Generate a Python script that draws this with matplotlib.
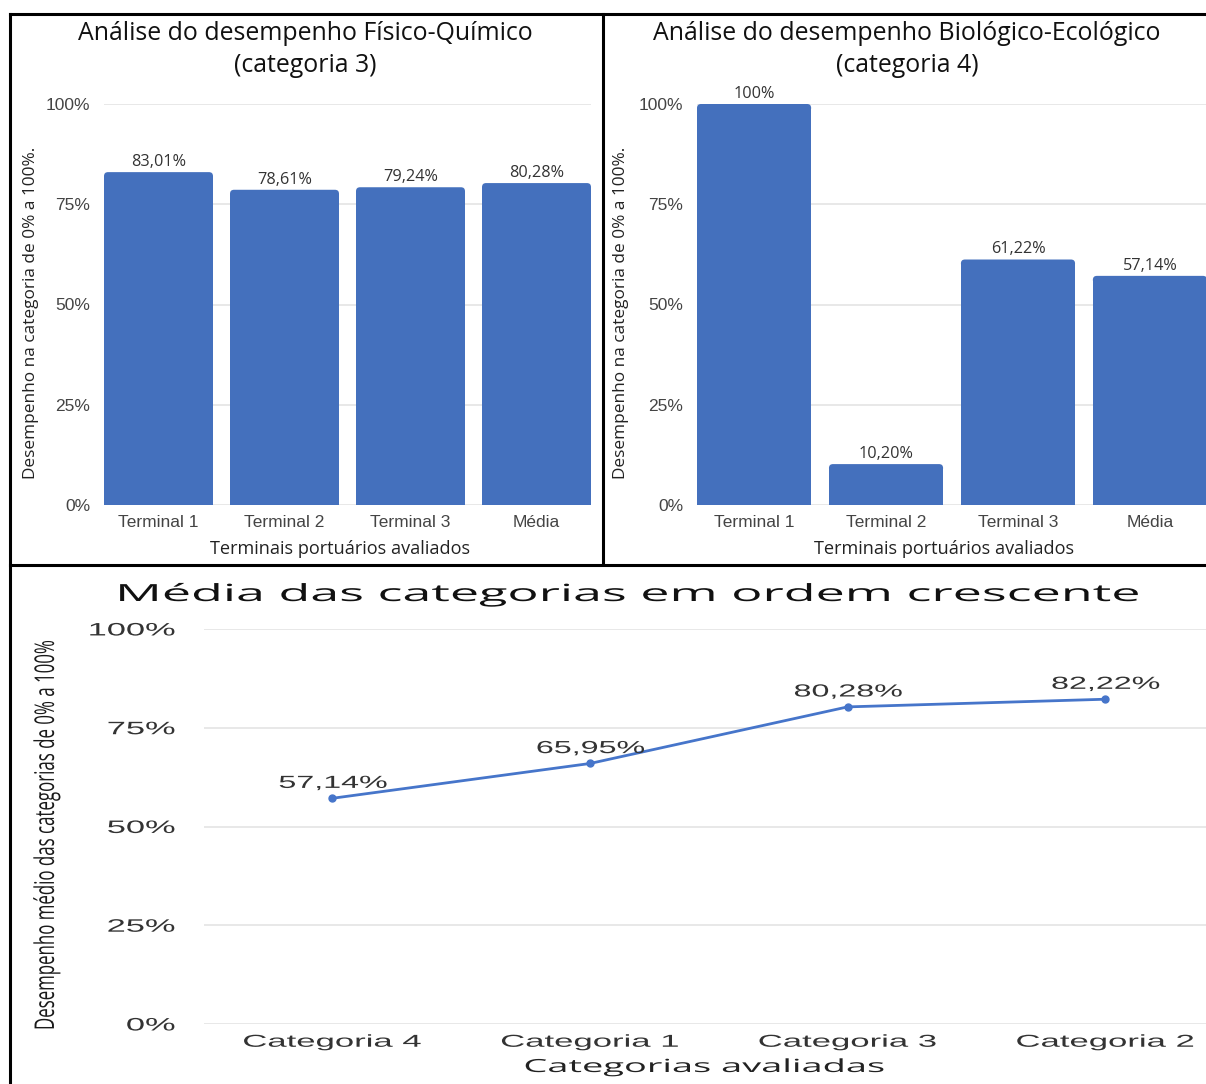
import numpy as np
import matplotlib
matplotlib.use("Agg")
import matplotlib.pyplot as plt
from matplotlib.patheffects import AbstractPathEffect
from matplotlib.transforms import Affine2D
from matplotlib.lines import Line2D
from matplotlib.patches import FancyBboxPatch

# ---- data -------------------------------------------------------------
terminais = ["Terminal 1", "Terminal 2", "Terminal 3", "Média"]
fisico_quimico = [83.01, 78.61, 79.24, 80.28]        # categoria 3
biologico_ecologico = [100.0, 10.20, 61.22, 57.14]   # categoria 4
categorias = ["Categoria 4", "Categoria 1", "Categoria 3", "Categoria 2"]
medias = [57.14, 65.95, 80.28, 82.22]
pct_ticks = [0, 25, 50, 75, 100]
pct_labels = ["0%", "25%", "50%", "75%", "100%"]

# ---- figure setup -----------------------------------------------------
W, H, DPI = 1206, 1084, 100
fig = plt.figure(figsize=(W / DPI, H / DPI), dpi=DPI)
fig.patch.set_facecolor("white")

BAR = "#4470BD"
LINE = "#4675CA"
GRID = "#e4e4e4"
TICK_C = "#444444"
LABEL_C = "#222222"
SANS = "Liberation Sans"
OPEN = "Open Sans"
BAR_W = 0.865
XLIM = (-0.4325, 3.4325)


def rect(x0, y0, x1, y1):
    """Pixel box (origin top-left) -> figure-fraction rect."""
    return [x0 / W, 1 - y1 / H, (x1 - x0) / W, (y1 - y0) / H]


def ftext(x, y, s, **kw):
    return fig.text(x / W, 1 - y / H, s, **kw)


class Stretch(AbstractPathEffect):
    """Scale glyphs along (sx) and across (sy) the writing direction."""

    def __init__(self, sx, sy=1.0, anchor="center"):
        super().__init__()
        self.sx = sx
        self.sy = sy
        self.anchor = anchor

    def draw_path(self, renderer, gc, tpath, affine, rgbFace=None):
        ext = tpath.get_extents()
        if self.anchor == "right":
            cx = ext.x1
        elif self.anchor == "left":
            cx = ext.x0
        else:
            cx = 0.5 * (ext.x0 + ext.x1)
        cy = 0.5 * (ext.y0 + ext.y1)
        pre = (Affine2D().translate(-cx, -cy)
               .scale(self.sx, self.sy).translate(cx, cy))
        renderer.draw_path(gc, tpath, pre + affine, rgbFace)


def natural_length(t):
    r = fig.canvas.get_renderer()
    bb = t.get_window_extent(r)
    return bb.height if abs(t.get_rotation() - 90) < 1 else bb.width


def stretch_to(texts, ref, target_px, anchor="center", sy=1.0):
    sx = target_px / natural_length(ref)
    for t in texts:
        t.set_path_effects([Stretch(sx, sy, anchor)])


def pct(v):
    if float(v).is_integer():
        return f"{int(v)}%"
    return f"{v:.2f}".replace(".", ",") + "%"


def style_axes(ax):
    for s in ax.spines.values():
        s.set_visible(False)
    ax.grid(axis="y", color=GRID, lw=1.2, zorder=0)
    ax.grid(axis="x", visible=False)
    ax.set_axisbelow(True)
    ax.tick_params(length=0)


def round_tops(ax, bars, box, rad_px=4.0):
    """Give each bar slightly rounded top corners."""
    bw = box[2] - box[0]
    bh = box[3] - box[1]
    rx = rad_px * (XLIM[1] - XLIM[0]) / bw
    ry = rad_px * 100.0 / bh
    for p in bars:
        x, w, h = p.get_x(), p.get_width(), p.get_height()
        p.set_height(h - ry)
        ax.add_patch(FancyBboxPatch(
            (x, h - 2 * ry), w, 2 * ry,
            boxstyle=f"round,pad=0,rounding_size={rx}",
            mutation_aspect=ry / rx, fc=p.get_facecolor(), ec="none",
            zorder=p.get_zorder()))


# ---- top bar charts ---------------------------------------------------
def bar_panel(box, values, title_lines, title_cx, xlabel_cx, ylabel_cx):
    ax = fig.add_axes(rect(*box))
    x = np.arange(len(terminais))
    bars = ax.bar(x, values, width=BAR_W, color=BAR, zorder=3)
    round_tops(ax, bars, box)
    ax.set_xlim(*XLIM)
    ax.set_ylim(0, 100)
    ax.set_yticks(pct_ticks, pct_labels)
    ax.set_xticks(x, terminais)
    style_axes(ax)
    ax.tick_params(axis="y", pad=10, labelsize=12.5, labelcolor=TICK_C)
    ax.tick_params(axis="x", pad=7, labelsize=12.5, labelcolor=TICK_C)
    for lab in ax.get_xticklabels() + ax.get_yticklabels():
        lab.set_fontfamily(SANS)
    for xi, v in zip(x, values):
        ax.annotate(pct(v), (xi, v), xytext=(0, 1.5), textcoords="offset points",
                    ha="center", va="bottom", fontsize=11.7, family=OPEN,
                    color="#333333", zorder=4, clip_on=False)
    ftext(title_cx, 33, title_lines[0], ha="center", va="center",
          fontsize=17.9, family=OPEN, color="#111111")
    ftext(title_cx, 66, title_lines[1], ha="center", va="center",
          fontsize=17.9, family=OPEN, color="#111111")
    ftext(xlabel_cx, 549, "Terminais portuários avaliados", ha="center",
          va="center", fontsize=13.1, family=OPEN, color=LABEL_C)
    ftext(ylabel_cx, 313, "Desempenho na categoria de 0% a 100%.", ha="center",
          va="center", rotation=90, fontsize=12.4, family=OPEN, color=LABEL_C)
    return ax


bar_panel((104, 104, 591, 505), fisico_quimico,
          ["Análise do desempenho Físico-Químico", "(categoria 3)"],
          305, 340, 31)
bar_panel((697, 104, 1207, 505), biologico_ecologico,
          ["Análise do desempenho Biológico-Ecológico", "(categoria 4)"],
          907, 944, 621)

# ---- bottom line chart ------------------------------------------------
ax3 = fig.add_axes(rect(203.5, 629, 1234, 1024))
xc = np.arange(len(categorias))
ax3.plot(xc, medias, color=LINE, lw=2.0, marker="o", ms=5, zorder=3)
ax3.set_xlim(-0.5, 3.5)
ax3.set_ylim(0, 100)
ax3.set_yticks(pct_ticks, pct_labels)
ax3.set_xticks(xc, categorias)
style_axes(ax3)
ax3.tick_params(axis="y", pad=20.5, labelsize=12, labelcolor="#333333")
ax3.tick_params(axis="x", pad=7.5, labelsize=11.5, labelcolor="#333333")
ylabs = ax3.get_yticklabels()
xlabs = ax3.get_xticklabels()
for lab in ylabs + xlabs:
    lab.set_fontfamily(SANS)
stretch_to(ylabs, ylabs[-1], 88, anchor="right", sy=1.08)
stretch_to(xlabs, xlabs[0], 180, sy=1.08)

vals = []
for xi, v in zip(xc, medias):
    vals.append(ax3.annotate(pct(v), (xi, v), xytext=(0.5, 5.5),
                             textcoords="offset points", ha="center",
                             va="bottom", fontsize=12, family=SANS,
                             color="#333333", zorder=4, clip_on=False))
stretch_to(vals, vals[0], 109, sy=1.05)

t_title = ftext(629, 595, "Média das categorias em ordem crescente",
                ha="center", va="center", fontsize=17, family=OPEN,
                color="#111111")
stretch_to([t_title], t_title, 1028)

t_xl = ftext(704, 1067, "Categorias avaliadas", ha="center", va="center",
             fontsize=13, family=OPEN, color=LABEL_C)
stretch_to([t_xl], t_xl, 360)

t_yl = ftext(47, 835, "Desempenho médio das categorias de 0% a 100%",
             ha="center", va="center", rotation=90, fontsize=11.5,
             family=OPEN, color="#1a1a1a")
stretch_to([t_yl], t_yl, 390, sy=1.7)

# ---- panel borders ----------------------------------------------------
def border(x0, y0, x1, y1):
    fig.add_artist(Line2D([x0 / W, x1 / W], [1 - y0 / H, 1 - y1 / H],
                          transform=fig.transFigure, color="black", lw=2.2,
                          solid_capstyle="projecting"))


border(10, 14, W, 14)
border(10, 14, 10, H)
border(603, 14, 603, 564)
border(10, 564.5, W, 564.5)

fig.savefig("out.png", dpi=DPI, facecolor="white")
